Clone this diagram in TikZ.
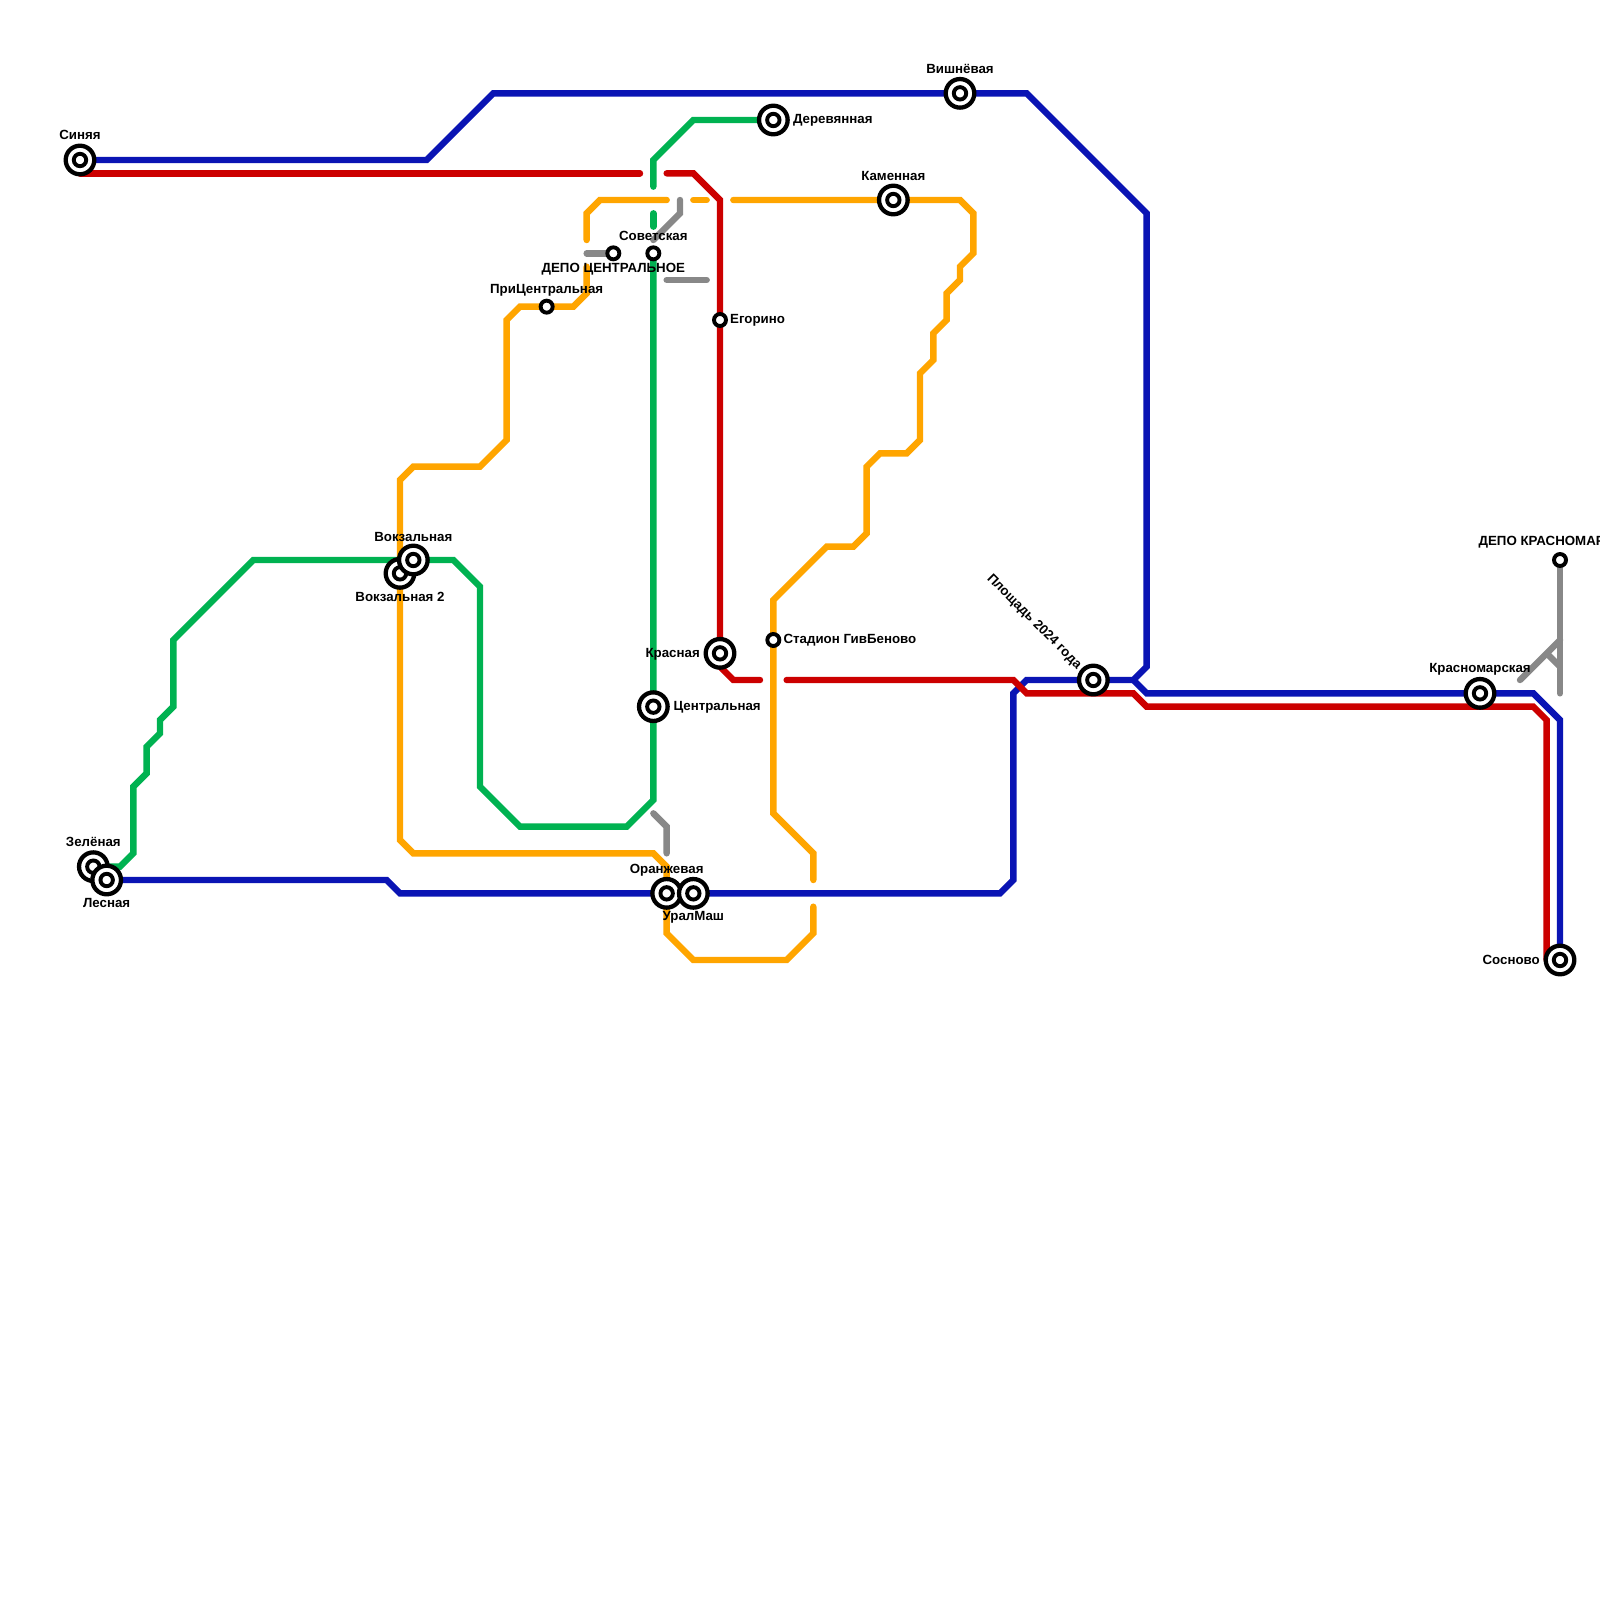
\documentclass[tikz,border=0pt]{standalone}
\usepackage{fontspec}
\setmainfont{Liberation Sans}
\usetikzlibrary{backgrounds}
\definecolor{lblue}{HTML}{0A14B4}
\definecolor{lred}{HTML}{CC0000}
\definecolor{lgreen}{HTML}{00B251}
\definecolor{lorange}{HTML}{FFA500}
\definecolor{lgray}{HTML}{888888}
\tikzset{
  metro/.style={line width=6.4pt,line cap=round,line join=miter,miter limit=10},
  bluel/.style={metro,draw=lblue},
  redl/.style={metro,draw=lred},
  greenl/.style={metro,draw=lgreen},
  orangel/.style={metro,draw=lorange},
  grayl/.style={metro,draw=lgray},
  ring/.style={circle,draw=black,fill=white,line width=3.9pt,inner sep=0pt,outer sep=0pt},
  bigouter/.style={ring,line width=4.3pt,minimum size=28.6pt},
  biginner/.style={ring,minimum size=12.4pt},
  smallst/.style={ring,minimum size=12pt},
  lbl/.style={font=\fontsize{13.3pt}{15pt}\selectfont\bfseries,inner sep=0pt,text=black,yshift=-1.2pt},
}
\newcommand{\bigst}[2]{\node[bigouter] (#1) at (#2) {};\node[biginner] (#1i) at (#1.center) {};}
\begin{document}
\begin{tikzpicture}[x=13.3333pt,y=-13.3333pt]
\useasboundingbox (0,0) rectangle (120,120);
\begin{scope}[on background layer]
\fill[white] (0,0) rectangle (120,120);
\end{scope}
% stations
\bigst{sin}{6,12}
\bigst{vish}{72,7}
\bigst{der}{58,9}
\bigst{kam}{67,15}
\node[smallst] (sov) at (49,19) {};
\node[smallst] (depc) at (46,19) {};
\node[smallst] (prc) at (41,23) {};
\node[smallst] (ego) at (54,24) {};
\bigst{vok2}{30,43}
\bigst{vok}{31,42}
\node[smallst] (stad) at (58,48) {};
\bigst{kra}{54,49}
\bigst{cen}{49,53}
\bigst{pl}{82,51}
\bigst{krm}{111,52}
\node[smallst] (depk) at (117,42) {};
\bigst{ora}{50,67}
\bigst{ura}{52,67}
\bigst{zel}{7,65}
\bigst{les}{8,66}
\bigst{sos}{117,72}
% lines
\begin{scope}[on background layer]
\draw[bluel] (sin.center) -- (32,12) -- (37,7) -- (vish.center) -- (77,7) -- (86,16) -- (86,50) -- (85,51) -- (pl.center) -- (77,51) -- (76,52) -- (76,66) -- (75,67) -- (ura.center) -- (ora.center) -- (30,67) -- (29,66) -- (les.center);
\draw[bluel] (85,51) -- (86,52) -- (krm.center) -- (115,52) -- (117,54) -- (sos.center);
\draw[greenl] (zel.center) -- (9,65) -- (10,64) -- (10,59) -- (11,58) -- (11,56) -- (12,55) -- (12,54) -- (13,53) -- (13,48) -- (19,42) -- (34,42) -- (36,44) -- (36,59) -- (39,62) -- (47,62) -- (49,60) -- (cen.center) -- (sov.center);
\draw[greenl] (49,14) -- (49,12) -- (52,9) -- (der.center);
\draw[greenl] (49,16) -- (49,17);
\draw[redl] (6,13) -- (48,13);
\draw[redl] (50,13) -- (52,13) -- (54,15) -- (ego.center) -- (kra.center) -- (54,50) -- (55,51) -- (57,51);
\draw[redl] (59,51) -- (76,51) -- (77,52) -- (85,52) -- (86,53) -- (115,53) -- (116,54) -- (116,72);
\draw[orangel] (44,18) -- (44,16) -- (45,15) -- (50,15);
\draw[orangel] (52,15) -- (53,15);
\draw[orangel] (55,15) -- (kam.center) -- (72,15) -- (73,16) -- (73,19) -- (72,20) -- (72,21) -- (71,22) -- (71,24) -- (70,25) -- (70,27) -- (69,28) -- (69,33) -- (68,34) -- (66,34) -- (65,35) -- (65,40) -- (64,41) -- (62,41) -- (58,45) -- (stad.center) -- (58,61) -- (61,64) -- (61,66);
\draw[orangel] (61,68) -- (61,70) -- (59,72) -- (52,72) -- (50,70) -- (ora.center) -- (50,65) -- (49,64) -- (31,64) -- (30,63) -- (30,36) -- (31,35) -- (36,35) -- (38,33) -- (38,24) -- (39,23) -- (prc.center) -- (43,23) -- (44,22) -- (44,20);
\draw[grayl] (44,19) -- (depc.center);
\draw[grayl] (51,15) -- (51,16) -- (49,18);
\draw[grayl] (50,21) -- (53,21);
\draw[grayl] (49,61) -- (50,62) -- (50,64);
\draw[grayl] (depk.center) -- (117,52);
\coordinate (gb) at (114,51);
\draw[grayl] (gb) -- (117,48);
\draw[grayl,line cap=butt] (116,49) -- (117,50);
\end{scope}
% labels
\node[lbl] (l1) at (6,10) {Синяя};
\node[lbl] (l2) at (72,5.05) {Вишнёвая};
\node[lbl,anchor=west] (l3) at (59.46,8.9) {Деревянная};
\node[lbl] (l4) at (67,13.1) {Каменная};
\node[lbl] (l5) at (49,17.6) {Советская};
\node[lbl] (l6) at (46,20.1) {ДЕПО ЦЕНТРАЛЬНОЕ};
\node[lbl] (l7) at (41,21.66) {ПриЦентральная};
\node[lbl,anchor=west] (l8) at (54.75,23.95) {Егорино};
\node[lbl] (l9) at (31,40.15) {Вокзальная};
\node[lbl] (l10) at (30,44.7) {Вокзальная 2};
\node[lbl,anchor=west] (l11) at (58.75,47.9) {Стадион ГивБеново};
\node[lbl,anchor=east] (l12) at (52.5,48.95) {Красная};
\node[lbl,anchor=west] (l13) at (50.5,52.96) {Центральная};
\node[lbl,rotate=-45] (l14) at (77.55,46.55) {Площадь 2024 года};
\node[lbl] (l15) at (111,50.13) {Красномарская};
\begin{scope}
\clip (0,0) rectangle (120,120);
\node[lbl] (l16) at (117,40.6) {ДЕПО КРАСНОМАРСКОЕ};
\end{scope}
\node[lbl] (l17) at (50,65.2) {Оранжевая};
\node[lbl] (l18) at (52,68.7) {УралМаш};
\node[lbl] (l19) at (7,63.05) {Зелёная};
\node[lbl] (l20) at (8,67.65) {Лесная};
\node[lbl,anchor=east] (l21) at (115.5,71.9) {Сосново};
\end{tikzpicture}
\end{document}
